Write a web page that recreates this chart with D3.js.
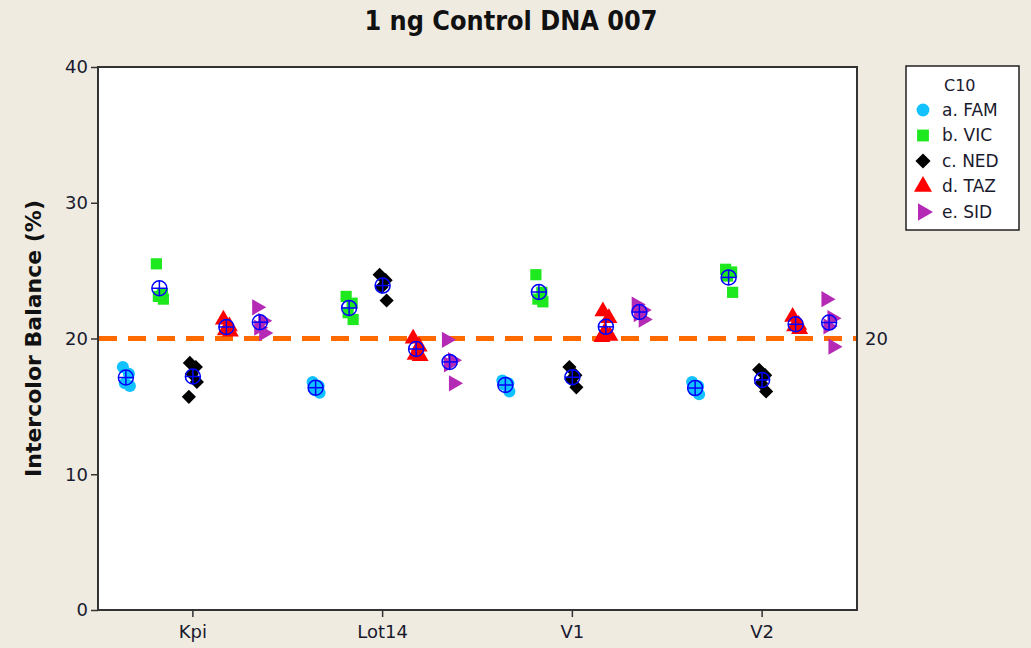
<!DOCTYPE html>
<html>
<head>
<meta charset="utf-8">
<script src="https://cdn.jsdelivr.net/npm/d3@7"></script>
<style>
  html, body { margin: 0; padding: 0; background: #efebe1; }
  svg { display: block; }
</style>
</head>
<body>
<svg id="chart" width="1031" height="648"></svg>
<script>
// Sample groups along the x axis and the dyes plotted within each group
const groups = ["Kpi", "Lot14", "V1", "V2"];
const dyes = ["a. FAM", "b. VIC", "c. NED", "d. TAZ", "e. SID"];
const yTicks = [0, 10, 20, 30, 40];
const referenceValue = 20;

// Intercolor balance (%) replicates, one array per dye, one inner list per group
const famValues = [
  [17.9, 17.4, 16.7, 16.5],
  [16.8, 16.5, 16.2, 16.0],
  [16.9, 16.7, 16.6, 16.1],
  [16.8, 16.5, 16.2, 15.9]
];
const vicValues = [
  [25.5, 23.3, 23.1, 22.9],
  [23.1, 22.6, 21.9, 21.4],
  [24.7, 23.4, 22.9, 22.7],
  [25.1, 24.9, 24.6, 23.4]
];
const nedValues = [
  [18.2, 17.9, 17.4, 16.8, 15.7],
  [24.7, 24.3, 23.8, 22.8],
  [17.9, 17.3, 17.0, 16.4],
  [17.7, 17.3, 16.7, 16.1]
];
const tazValues = [
  [21.4, 20.9, 20.6, 20.5],
  [20.0, 19.4, 18.8, 18.7],
  [22.0, 21.5, 20.5, 20.2, 20.1],
  [21.6, 21.0, 20.9, 20.7]
];
const sidValues = [
  [22.3, 21.3, 20.8, 20.4],
  [19.9, 18.4, 18.1, 16.7],
  [22.5, 22.1, 21.8, 21.4],
  [22.9, 21.5, 20.9, 19.4]
];

const seriesValues = [famValues, vicValues, nedValues, tazValues, sidValues];
const dyeColors = ["#12c2ff", "#1ee81e", "#000000", "#ff0000", "#b52ab5"];
const dyeSymbols = [d3.symbolCircle, d3.symbolSquare, d3.symbolSquare, d3.symbolTriangle, d3.symbolTriangle];
const dyeRotate = [0, 0, 45, 0, 90];
const dyeSizes = [115, 125, 100, 125, 115];
// small horizontal spread so overlapping replicates stay visible
const jitterPx = [-3, 3, -1, 4, -4];

const svg = d3.select("#chart");
const W = 1031, H = 648;
const plot = { left: 98, right: 857, top: 67, bottom: 610 };
const fontFam = "'DejaVu Sans', Verdana, sans-serif";
const textColor = "#1a1a2e";

svg.append("rect").attr("width", W).attr("height", H).attr("fill", "#efebe1");

const x = d3.scaleBand().domain(groups).range([plot.left, plot.right]).padding(0);
const dyeOffset = d3.scalePoint().domain(dyes).range([-67, 67]);
const y = d3.scaleLinear().domain([0, 40]).range([plot.bottom, plot.top]);

// Plot area
svg.append("rect")
  .attr("x", plot.left).attr("y", plot.top)
  .attr("width", plot.right - plot.left).attr("height", plot.bottom - plot.top)
  .attr("fill", "#ffffff").attr("stroke", "#333333").attr("stroke-width", 2);

// Axes
const yAxis = d3.axisLeft(y).tickValues(yTicks).tickSize(7).tickPadding(3).tickFormat(d3.format("d"));
const gy = svg.append("g").attr("transform", `translate(${plot.left},0)`).call(yAxis);
gy.select(".domain").remove();
gy.selectAll("line").attr("stroke", "#333").attr("stroke-width", 1.5);
gy.selectAll("text").attr("font-family", fontFam).attr("font-size", 18).attr("fill", textColor);

const xAxis = d3.axisBottom(x).tickSize(7).tickPadding(8);
const gx = svg.append("g").attr("transform", `translate(0,${plot.bottom})`).call(xAxis);
gx.select(".domain").remove();
gx.selectAll("line").attr("stroke", "#333").attr("stroke-width", 1.5);
gx.selectAll("text").attr("font-family", fontFam).attr("font-size", 18).attr("fill", textColor);

// Reference line
svg.append("line")
  .attr("x1", plot.left + 1).attr("x2", plot.right - 1)
  .attr("y1", y(referenceValue)).attr("y2", y(referenceValue))
  .attr("stroke", "#ff6a00").attr("stroke-width", 5)
  .attr("stroke-dasharray", "18,11");
svg.append("text")
  .attr("x", plot.right + 8).attr("y", y(referenceValue))
  .attr("dy", "0.36em")
  .attr("font-family", fontFam).attr("font-size", 18).attr("fill", textColor)
  .text(referenceValue);

// Individual values
const points = [];
const means = [];
seriesValues.forEach((series, di) => {
  series.forEach((vals, gi) => {
    const cx = x(groups[gi]) + x.bandwidth() / 2 + dyeOffset(dyes[di]);
    vals.forEach((v, ri) => points.push({ di, cx: cx + jitterPx[ri % jitterPx.length], v }));
    means.push({ cx, v: d3.mean(vals) });
  });
});

svg.append("g").selectAll("path")
  .data(points)
  .join("path")
  .attr("d", d => d3.symbol().type(dyeSymbols[d.di]).size(dyeSizes[d.di])())
  .attr("transform", d => `translate(${d.cx},${y(d.v)}) rotate(${dyeRotate[d.di]})`)
  .attr("fill", d => dyeColors[d.di]);

// Mean symbols: circle with crosshair
const mg = svg.append("g").selectAll("g")
  .data(means)
  .join("g")
  .attr("transform", d => `translate(${d.cx},${y(d.v)})`);
mg.append("circle").attr("r", 7.5).attr("fill", "none").attr("stroke", "#0000ff").attr("stroke-width", 1.5);
mg.append("line").attr("x1", -7.5).attr("x2", 7.5).attr("stroke", "#0000ff").attr("stroke-width", 1.5);
mg.append("line").attr("y1", -7.5).attr("y2", 7.5).attr("stroke", "#0000ff").attr("stroke-width", 1.5);

// Title
svg.append("text")
  .attr("x", 511).attr("y", 30)
  .attr("text-anchor", "middle")
  .attr("font-family", fontFam).attr("font-weight", "bold").attr("font-size", 26)
  .attr("textLength", 293).attr("lengthAdjust", "spacingAndGlyphs")
  .attr("fill", "#111")
  .text("1 ng Control DNA 007");

// Y axis title
svg.append("text")
  .attr("transform", `translate(41,${(plot.top + plot.bottom) / 2}) rotate(-90)`)
  .attr("text-anchor", "middle")
  .attr("font-family", fontFam).attr("font-weight", "bold").attr("font-size", 22)
  .attr("fill", "#111")
  .text("Intercolor Balance (%)");

// Legend
const lg = svg.append("g");
lg.append("rect")
  .attr("x", 906).attr("y", 66).attr("width", 113).attr("height", 164)
  .attr("fill", "#ffffff").attr("stroke", "#222").attr("stroke-width", 1.5);
lg.append("text")
  .attr("x", 944).attr("y", 85).attr("dy", "0.35em")
  .attr("font-family", fontFam).attr("font-size", 16).attr("fill", textColor)
  .text("C10");
dyes.forEach((d, i) => {
  const ly = 110 + i * 25.5;
  lg.append("path")
    .attr("d", d3.symbol().type(dyeSymbols[i]).size(dyeSizes[i] + 15)())
    .attr("transform", `translate(923,${ly}) rotate(${dyeRotate[i]})`)
    .attr("fill", dyeColors[i]);
  lg.append("text")
    .attr("x", 942).attr("y", ly).attr("dy", "0.35em")
    .attr("font-family", fontFam).attr("font-size", 17).attr("fill", textColor)
    .text(d);
});
</script>
</body>
</html>
